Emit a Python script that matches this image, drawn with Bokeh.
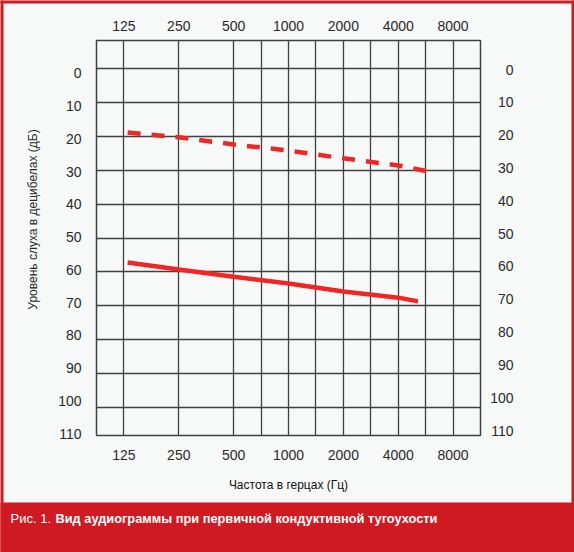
import math
from bokeh.plotting import figure
from bokeh.models import (Range1d, LogAxis, LinearAxis, FixedTicker, NumeralTickFormatter, Grid)
from bokeh.core.properties import value
from bokeh.embed import file_html
from bokeh.resources import INLINE

# ---- data ----
freq_ticks = [125, 250, 500, 1000, 2000, 4000, 8000]
freq_grid = [125, 250, 500, 707, 1000, 1414, 2000, 2828, 4000, 5657, 8000]
db_grid = [0, 10, 20, 30, 40, 50, 60, 70, 80, 90, 100]
db_labels = [0, 10, 20, 30, 40, 50, 60, 70, 80, 90, 100, 110]

bone_freq = [131, 250, 500, 1000, 2000, 4000, 5900]
bone_db = [18.9, 20.3, 22.4, 24.2, 26.5, 28.6, 30.4]
air_freq = [131, 250, 500, 1000, 2000, 4000, 5140]
air_db = [57.2, 59.3, 61.4, 63.4, 65.8, 67.6, 68.7]

x_title = "Частота в герцах (Гц)"
y_title = "Уровень слуха в децибелах (дБ)"
cap1 = "Рис. 1."
cap2 = "Вид аудиограммы при первичной кондуктивной тугоухости"

RED = "#cf1a22"
LINE_RED = "#ee2624"
BG = "#f7f9f8"
GRID = "#404040"
TXT = "#2a2a2a"
FONT = "Liberation Sans"

W, H = 574, 552
FL, FR, FT, FB = 96, 480, 40, 435          # frame edges in pixels
X0, X1 = 88.39, 11314.0                    # x range (log)
Y0, Y1 = -8.26, 108.26                     # y range (top, bottom)


def px_x(px):
    a, b = math.log10(X0), math.log10(X1)
    return 10 ** (a + (px - FL) * (b - a) / (FR - FL))


def px_y(py):
    return Y0 + (py - FT) * (Y1 - Y0) / (FB - FT)


p = figure(width=W, height=H, x_axis_type="log",
           x_range=Range1d(X0, X1), y_range=Range1d(Y1, Y0),
           output_backend="svg", toolbar_location=None,
           x_axis_location=None, y_axis_location=None,
           min_border_left=FL, min_border_right=W - FR, min_border_top=FT, min_border_bottom=H - FB)
p.extra_y_ranges = {"lab": Range1d(110.6, -10.08), "rlab": Range1d(111.5, -8.84)}
p.background_fill_color = BG
p.border_fill_color = BG
p.outline_line_color = GRID
p.outline_line_width = 1.5
for g in p.grid:
    g.visible = False

p.add_layout(Grid(dimension=0, ticker=FixedTicker(ticks=freq_grid),
                  grid_line_color=GRID, grid_line_width=1.3))
p.add_layout(Grid(dimension=1, ticker=FixedTicker(ticks=db_grid),
                  grid_line_color=GRID, grid_line_width=1.3))


def style(ax, standoff):
    ax.axis_line_color = None
    ax.major_tick_line_color = None
    ax.minor_tick_line_color = None
    ax.major_label_text_font = FONT
    ax.major_label_text_font_size = "14px"
    ax.major_label_text_color = TXT
    ax.major_label_standoff = standoff


top = LogAxis(ticker=FixedTicker(ticks=freq_ticks), formatter=NumeralTickFormatter(format="0"))
style(top, 4)
p.add_layout(top, "above")

bottom = LogAxis(ticker=FixedTicker(ticks=freq_ticks), formatter=NumeralTickFormatter(format="0"),
                 axis_label=x_title)
style(bottom, 8)
bottom.axis_label_text_font = FONT
bottom.axis_label_text_font_style = "normal"
bottom.axis_label_text_font_size = "12px"
bottom.axis_label_text_color = "#111"
bottom.axis_label_standoff = 15
p.add_layout(bottom, "below")

left = LinearAxis(y_range_name="lab", ticker=FixedTicker(ticks=db_labels))
style(left, 9)
p.add_layout(left, "left")

# right-hand dB labels (right aligned)
p.text(x=[px_x(513)] * len(db_labels), y=db_labels, text=[str(v) for v in db_labels],
       y_range_name="rlab", text_align="right", text_baseline="middle",
       text_font=value(FONT), text_font_size="14px", text_color=TXT, level="overlay")

# vertical axis title
p.text(x=[px_x(32)], y=[px_y(219)], text=[y_title], angle=math.pi / 2,
       text_align="center", text_baseline="middle",
       text_font=value(FONT), text_font_size="12px", text_color=TXT, level="overlay")

# data lines
p.line(bone_freq, bone_db, line_color=LINE_RED, line_width=4.5, line_dash="13 11")
p.line(air_freq, air_db, line_color=LINE_RED, line_width=4.5)

# red frame + caption band
bands = [(0, W, 502, H), (0, 3, 0, H), (W - 3, W, 0, H), (0, W, 0, 3)]
p.quad(left=[px_x(b[0]) for b in bands], right=[px_x(b[1]) for b in bands],
       top=[px_y(b[2]) for b in bands], bottom=[px_y(b[3]) for b in bands],
       fill_color=RED, line_color=None, level="overlay")

p.text(x=[px_x(10)], y=[px_y(517.5)], text=[cap1], text_align="left", text_baseline="middle",
       text_font=value(FONT), text_font_size="13px", text_color="white", level="overlay")
p.text(x=[px_x(55)], y=[px_y(517.5)], text=[cap2], text_align="left", text_baseline="middle",
       text_font=value(FONT), text_font_size="12.8px", text_font_style="bold",
       text_color="white", level="overlay")

open("out.html", "w").write(file_html(p, INLINE))
